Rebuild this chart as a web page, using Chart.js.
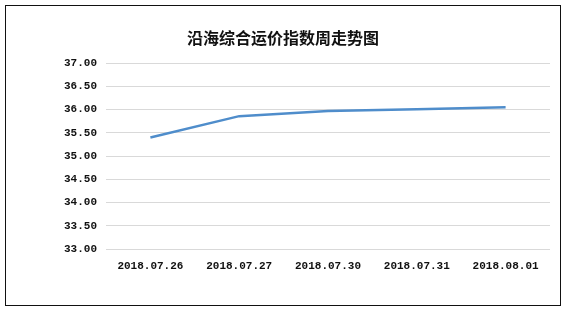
<!DOCTYPE html>
<html>
<head>
<meta charset="utf-8">
<script src="https://cdn.jsdelivr.net/npm/chart.js@4.4.1/dist/chart.umd.min.js"></script>
<style>
  html, body { margin: 0; padding: 0; background: #fff; }
  #frame {
    position: absolute; left: 5px; top: 5px;
    width: 556px; height: 301px;
    box-sizing: border-box;
    border: 1px solid #111;
    background: #fff;
  }
  #chartLine { display: block; }
</style>
</head>
<body>
<div id="frame"><canvas id="chartLine" width="554" height="299"></canvas></div>
<script>
'use strict';

// 沿海综合运价指数 (weekly)
var dates = ['2018.07.26', '2018.07.27', '2018.07.30', '2018.07.31', '2018.08.01'];
var indexValues = [35.40, 35.86, 35.97, 36.01, 36.05];
var yTicks = [33.00, 33.50, 34.00, 34.50, 35.00, 35.50, 36.00, 36.50, 37.00];

var tickFont = { family: '"Liberation Mono", "DejaVu Sans Mono", monospace', size: 11, weight: 'bold' };

var ctx = document.getElementById('chartLine');
var myLineChart = new Chart(ctx, {
    type: 'line',
    data: {
        labels: dates,
        datasets: [{
            data: indexValues,
            borderColor: '#4f8dcb',
            borderWidth: 2.5,
            pointRadius: 0,
            tension: 0,
            fill: false
        }]
    },
    options: {
        responsive: false,
        animation: false,
        layout: { padding: 0 },
        plugins: {
            legend: { display: false },
            tooltip: { enabled: false },
            title: {
                display: true,
                text: '沿海综合运价指数周走势图',
                color: '#111',
                font: { family: '"Noto Sans CJK SC", sans-serif', size: 16, weight: 'bold' },
                padding: { top: 22, bottom: 16 }
            }
        },
        scales: {
            x: {
                offset: true,
                grid: { display: false, drawTicks: false },
                border: { display: false },
                ticks: { color: '#111', font: tickFont, padding: 11, maxRotation: 0 },
                afterFit: function(s) { s.height = 56; }
            },
            y: {
                min: yTicks[0],
                max: yTicks[yTicks.length - 1],
                afterBuildTicks: function(s) {
                    s.ticks = yTicks.map(function(v) { return { value: v }; });
                },
                grid: { color: '#d9d9d9', lineWidth: 1, drawTicks: false },
                border: { display: false },
                ticks: {
                    color: '#111',
                    font: tickFont,
                    padding: 9,
                    callback: function(v) { return Number(v).toFixed(2); }
                },
                afterFit: function(s) { s.width = 100; }
            },
            // empty right-hand gutter so the title stays centred on the frame
            gutter: {
                type: 'linear',
                position: 'right',
                grid: { display: false, drawTicks: false },
                border: { display: false },
                ticks: { display: false },
                afterFit: function(s) { s.width = 10; }
            }
        }
    }
});
</script>
</body>
</html>
